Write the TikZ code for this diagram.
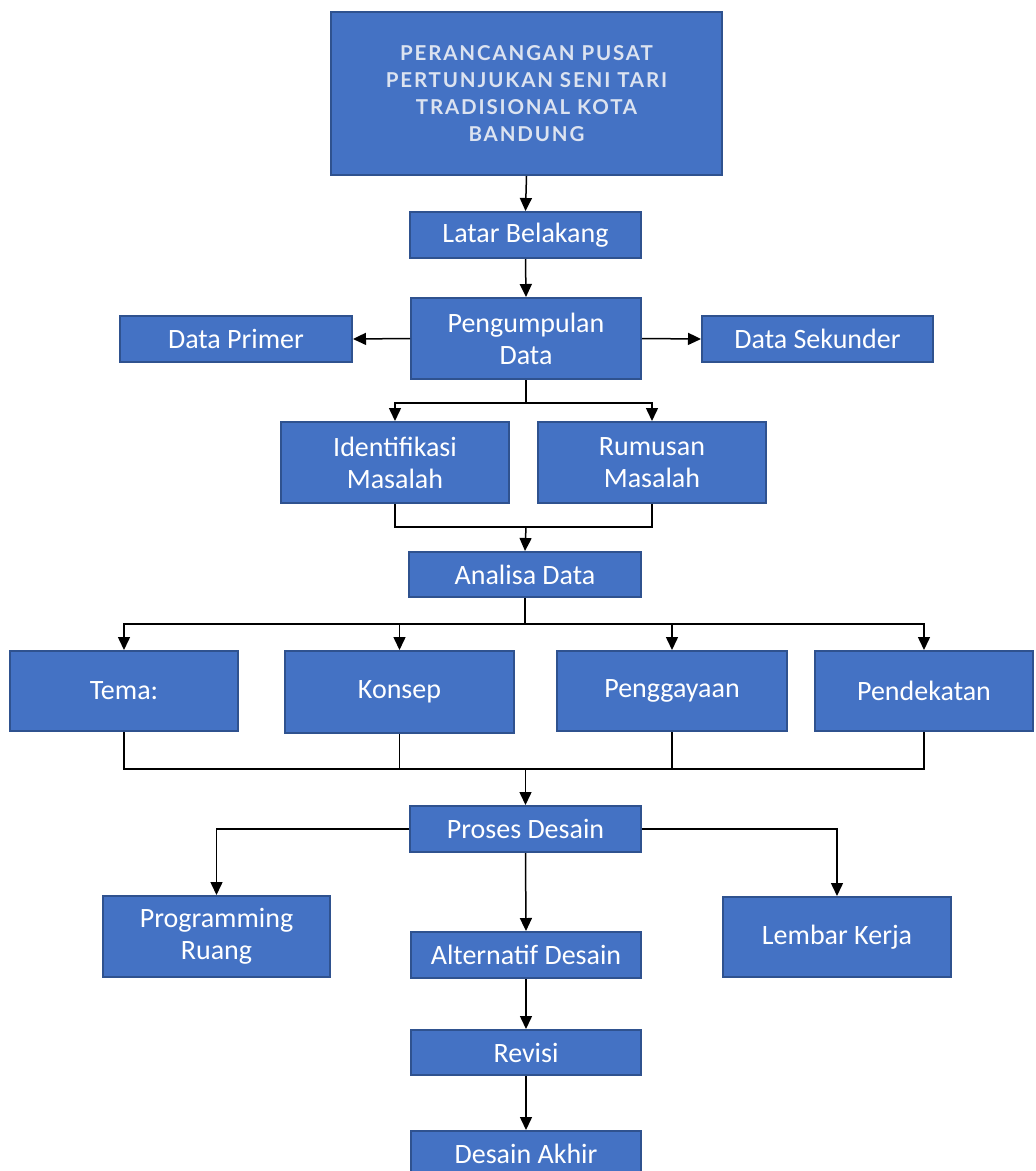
\documentclass[tikz,border=0pt]{standalone}
\usepackage{fontspec}
\setmainfont{Carlito}
\newfontfamily\titlefont[LetterSpace=9]{Lato}
\usetikzlibrary{arrows.meta}
\definecolor{boxfill}{HTML}{4472C4}
\definecolor{boxline}{HTML}{2F528F}
\definecolor{titletext}{HTML}{DCE3F0}
\tikzset{
  box/.style={draw=boxline, line width=2pt, fill=boxfill, text=white, align=center,
    inner sep=2pt, font=\fontsize{28}{32}\selectfont},
  arr/.style={-{Triangle[length=13pt,width=12pt]}, line width=1.5pt},
  ln/.style={line width=1.5pt}
}
\begin{document}
\begin{tikzpicture}[x=1pt,y=-1pt]
\useasboundingbox (0,0) rectangle (1036,1171);
\clip (0,0) rectangle (1036,1171);
\node[box, minimum width=391pt, minimum height=163pt, text=titletext,
  font=\titlefont\bfseries\fontsize{20.5}{27}\selectfont] (title) at (526.5,93.5)
  {PERANCANGAN PUSAT\\PERTUNJUKAN SENI TARI\\TRADISIONAL KOTA\\BANDUNG};
\node[box, minimum width=231pt, minimum height=46pt] (latar) at (525.5,235) {Latar Belakang};
\node[box, minimum width=230pt, minimum height=81pt] (peng) at (526,338.5) {Pengumpulan\\Data};
\node[box, minimum width=232pt, minimum height=46pt] (primer) at (236,339) {Data Primer};
\node[box, minimum width=231pt, minimum height=46pt] (sekunder) at (817.5,339) {Data Sekunder};
\node[box, minimum width=228pt, minimum height=81pt] (ident) at (395,462.5) {Identifikasi\\Masalah};
\node[box, minimum width=228pt, minimum height=81pt] (rumus) at (652,462.5) {Rumusan\\Masalah};
\node[box, minimum width=232pt, minimum height=45pt] (analisa) at (525,574.5) {Analisa Data};
\node[box, minimum width=228pt, minimum height=80pt] (tema) at (124,691) {Tema:};
\node[box, minimum width=229pt, minimum height=82pt] (konsep) at (399.5,692) {Konsep};
\node[box, minimum width=230pt, minimum height=80pt] (pengg) at (672,691) {Penggayaan};
\node[box, minimum width=218pt, minimum height=80pt] (pend) at (924,691) {Pendekatan};
\node[box, minimum width=231pt, minimum height=46pt] (proses) at (525.5,829) {Proses Desain};
\node[box, minimum width=227pt, minimum height=81pt] (prog) at (216.5,936.5) {Programming\\Ruang};
\node[box, minimum width=230pt, minimum height=46pt] (alt) at (526,955) {Alternatif Desain};
\node[box, minimum width=228pt, minimum height=80pt] (lembar) at (837,937) {Lembar Kerja};
\node[box, minimum width=230pt, minimum height=45pt] (revisi) at (526,1052.5) {Revisi};
\node[box, minimum width=230pt, minimum height=46pt, anchor=north] (akhir) at (526,1130) {Desain Akhir};

% connectors
\draw[arr] (title.south) -- (latar.north);
\draw[arr] (latar.south) -- (peng.north);
\draw[arr] (peng.west) -- (primer.east);
\draw[arr] (peng.east) -- (sekunder.west);

\coordinate (j1) at (526,403);
\draw[ln] (peng.south) -- (j1);
\draw[arr] (j1) -| (ident.north);
\draw[arr] (j1) -| (rumus.north);

\coordinate (j2) at (526,527);
\draw[ln] (ident.south) |- (j2);
\draw[ln] (rumus.south) |- (j2);
\draw[arr] (j2) -- (analisa.north);

\coordinate (j3) at (525,624);
\draw[ln] (analisa.south) -- (j3);
\draw[arr] (j3) -| (tema.north);
\draw[arr] (j3) -| (konsep.north);
\draw[arr] (j3) -| (pengg.north);
\draw[arr] (j3) -| (pend.north);

\coordinate (j4) at (525.5,769);
\draw[ln] (tema.south) |- (j4);
\draw[ln] (konsep.south) |- (j4);
\draw[ln] (pengg.south) |- (j4);
\draw[ln] (pend.south) |- (j4);
\draw[arr] (j4) -- (proses.north);

\draw[arr] (proses.west) -| (prog.north);
\draw[arr] (proses.east) -| (lembar.north);
\draw[arr] (proses.south) -- (alt.north);
\draw[arr] (alt.south) -- (revisi.north);
\draw[arr] (revisi.south) -- (akhir.north);
\end{tikzpicture}
\end{document}
